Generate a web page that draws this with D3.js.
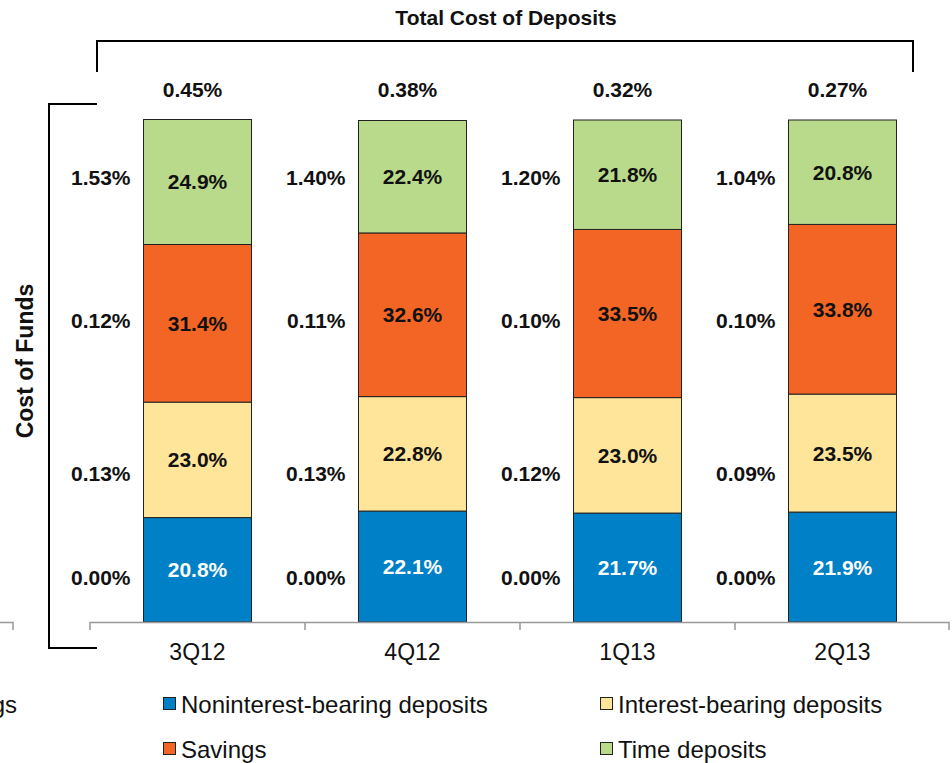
<!DOCTYPE html>
<html lang="en">
<head>
<meta charset="UTF-8">
<title>Cost of Funds / Total Cost of Deposits</title>
<script src="https://d3js.org/d3.v7.min.js"></script>
<style>
  body { margin: 0; background: #fff; font-family: "Liberation Sans", Arial, sans-serif; }
  .seg { stroke: #222; stroke-width: 1; }
  .val { font-weight: bold; font-size: 21px; }
</style>
</head>
<body>
<div id="chart"></div>
<script>
// --- data ---
const quarters = ["3Q12", "4Q12", "1Q13", "2Q13"];
const seriesNames = ["Noninterest-bearing deposits", "Interest-bearing deposits", "Savings", "Time deposits"];
const nonInterest = [20.8, 22.1, 21.7, 21.9];
const interestBearing = [23.0, 22.8, 23.0, 23.5];
const savings = [31.4, 32.6, 33.5, 33.8];
const timeDeposits = [24.9, 22.4, 21.8, 20.8];
// cost of funds per segment (bottom to top) for each quarter
const costNonInterest = ["0.00%", "0.00%", "0.00%", "0.00%"];
const costInterest = ["0.13%", "0.13%", "0.12%", "0.09%"];
const costSavings = ["0.12%", "0.11%", "0.10%", "0.10%"];
const costTime = ["1.53%", "1.40%", "1.20%", "1.04%"];
const totalCostOfDeposits = ["0.45%", "0.38%", "0.32%", "0.27%"];

const colors = ["#0080C6", "#FEE59A", "#F26524", "#BADA8B"];

const W = 952, H = 763;
const svg = d3.select("#chart").append("svg").attr("width", W).attr("height", H);

const rows = quarters.map((q, i) => ({
  q,
  "0": nonInterest[i], "1": interestBearing[i], "2": savings[i], "3": timeDeposits[i]
}));
const keys = ["0", "1", "2", "3"];
const stacked = d3.stack().keys(keys)(rows);
const costs = [costNonInterest, costInterest, costSavings, costTime];

// scales
const x = d3.scaleBand().domain(quarters).range([90, 950]).paddingInner(0).paddingOuter(0);
const y = d3.scaleLinear().domain([0, 100]).range([622, 120]);
const barW = 108;
const barX = q => x(q) + (x.bandwidth() - barW) / 2;

// bars
stacked.forEach((layer, si) => {
  svg.append("g").selectAll("rect").data(layer).join("rect")
    .attr("class", "seg")
    .attr("x", d => barX(d.data.q))
    .attr("width", barW)
    .attr("y", d => y(d[1]))
    .attr("height", d => y(d[0]) - y(d[1]))
    .attr("fill", colors[si]);

  svg.append("g").selectAll("text").data(layer).join("text")
    .attr("class", "val")
    .attr("x", d => barX(d.data.q) + barW / 2)
    .attr("y", d => (y(d[0]) + y(d[1])) / 2 + 7.5)
    .attr("text-anchor", "middle")
    .attr("fill", si === 0 ? "#fff" : "#111")
    .text(d => (d[1] - d[0]).toFixed(1) + "%");
});

// cost of funds labels on fixed rows (in y-domain units), bottom to top
const costRows = [8.8, 29.5, 60.0, 88.6];
costs.forEach((arr, si) => {
  svg.append("g").selectAll("text").data(quarters).join("text")
    .attr("class", "val")
    .attr("x", q => barX(q) - 13)
    .attr("y", y(costRows[si]) + 7.5)
    .attr("text-anchor", "end")
    .attr("fill", "#111")
    .text((q, i) => arr[i]);
});

// total cost of deposits
svg.append("g").selectAll("text").data(quarters).join("text")
  .attr("class", "val")
  .attr("x", q => x(q) + x.bandwidth() / 2 - 5)
  .attr("y", 97)
  .attr("text-anchor", "middle")
  .attr("fill", "#111")
  .text((q, i) => totalCostOfDeposits[i]);

svg.append("text")
  .attr("x", 506).attr("y", 25)
  .attr("text-anchor", "middle")
  .style("font-weight", "bold").style("font-size", "21px")
  .attr("fill", "#111")
  .text("Total Cost of Deposits");

// brackets
svg.append("path")
  .attr("d", "M97,72 V41 H913 V72")
  .attr("fill", "none").attr("stroke", "#000").attr("stroke-width", 2);
svg.append("path")
  .attr("d", "M97,104 H49 V648 H97")
  .attr("fill", "none").attr("stroke", "#000").attr("stroke-width", 2);

svg.append("text")
  .attr("transform", "translate(33,361) rotate(-90)")
  .attr("text-anchor", "middle")
  .style("font-weight", "bold").style("font-size", "23px")
  .attr("fill", "#111")
  .text("Cost of Funds");

// x axis
const xAxis = svg.append("g").attr("transform", "translate(0,622)");
xAxis.append("path").attr("d", "M90,8 V0.5 H949 V8")
  .attr("fill", "none").attr("stroke", "#999").attr("stroke-width", 1.5);
xAxis.selectAll("line.tick").data(quarters.slice(1)).join("line")
  .attr("x1", q => x(q)).attr("x2", q => x(q))
  .attr("y1", 0).attr("y2", 8)
  .attr("stroke", "#999").attr("stroke-width", 1.5);
xAxis.selectAll("text").data(quarters).join("text")
  .attr("x", q => x(q) + x.bandwidth() / 2)
  .attr("y", 38)
  .attr("text-anchor", "middle")
  .style("font-size", "23px")
  .attr("fill", "#111")
  .text(q => q);
// fragment of neighbouring axis at the left edge
xAxis.append("path").attr("d", "M0,0.5 H13 V8")
  .attr("fill", "none").attr("stroke", "#999").attr("stroke-width", 1.5);

// legend
const legendItems = [
  { name: seriesNames[0], c: colors[0], lx: 163, ly: 704 },
  { name: seriesNames[1], c: colors[1], lx: 600, ly: 704 },
  { name: seriesNames[2], c: colors[2], lx: 163, ly: 749 },
  { name: seriesNames[3], c: colors[3], lx: 600, ly: 749 }
];
const lg = svg.append("g").selectAll("g").data(legendItems).join("g")
  .attr("transform", d => `translate(${d.lx},${d.ly})`);
lg.append("rect").attr("x", 0.5).attr("y", -6.5).attr("width", 12).attr("height", 12)
  .attr("fill", d => d.c).attr("stroke", "#222").attr("stroke-width", 1);
lg.append("text").attr("x", 18).attr("y", 8.5)
  .style("font-size", "24px").attr("fill", "#111")
  .text(d => d.name);
// cut-off legend entry at the left edge
svg.append("text").attr("x", 17).attr("y", 712.5)
  .attr("text-anchor", "end")
  .style("font-size", "24px").attr("fill", "#111")
  .text("Borrowings");
</script>
</body>
</html>
